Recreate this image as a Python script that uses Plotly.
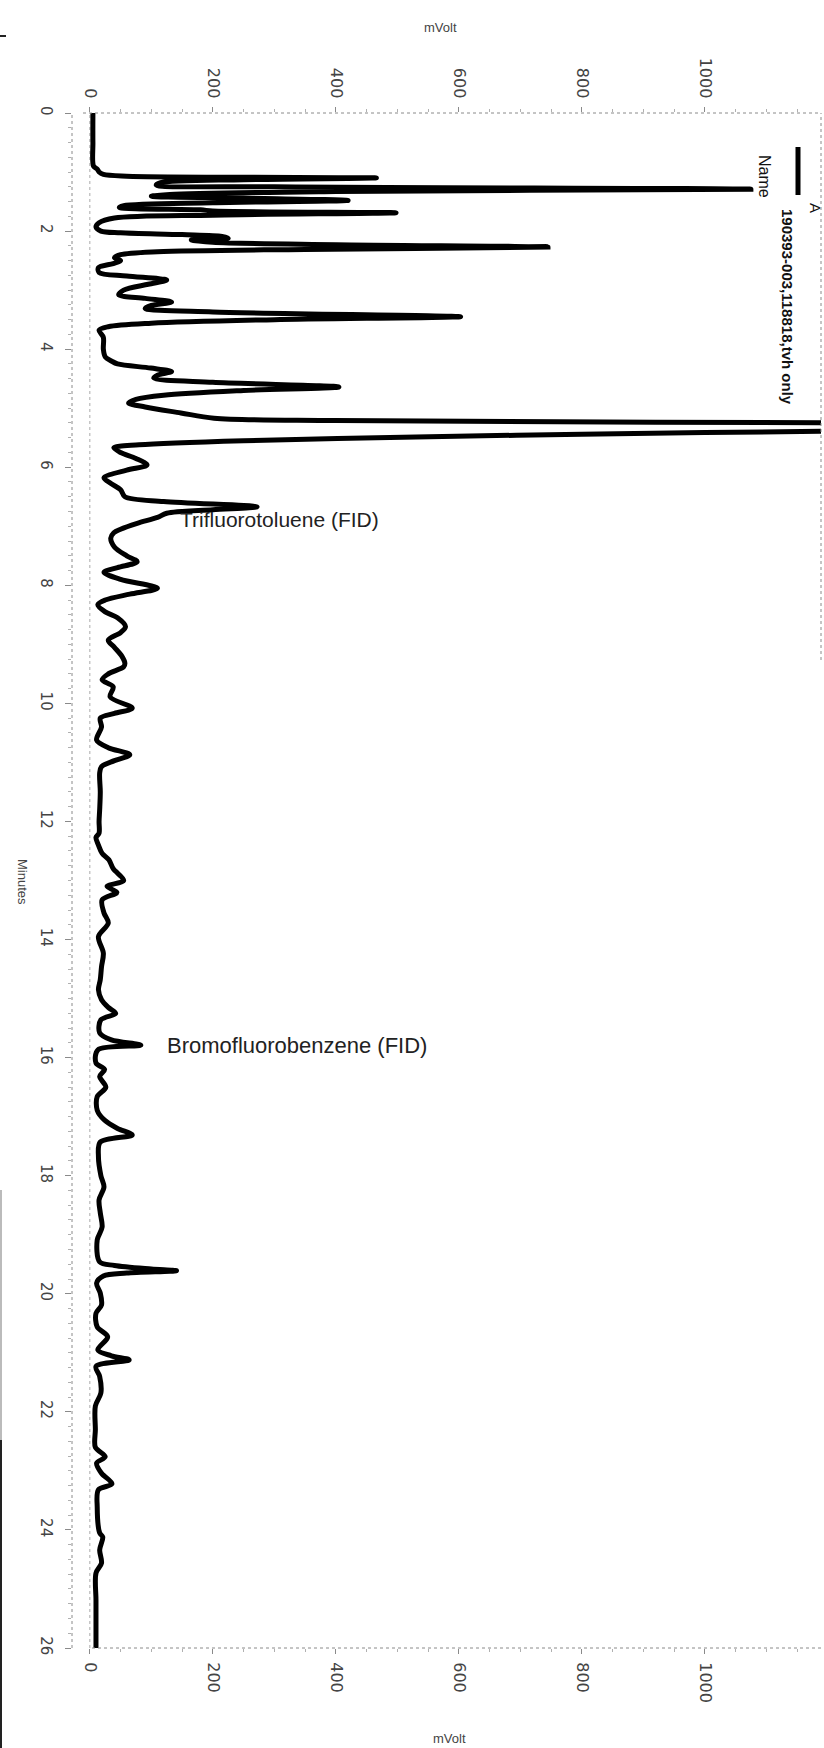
import plotly.graph_objects as go

# ---- data (time in minutes, signal in mVolt) ----
TIME = [0.00, 0.50, 0.90, 0.95, 1.00, 1.04, 1.07, 1.10, 1.13, 1.18, 1.22, 1.25, 1.29, 1.33, 1.38,
        1.41, 1.44, 1.48, 1.52, 1.57, 1.60, 1.64, 1.66, 1.69, 1.73, 1.78, 1.86, 1.93, 2.00, 2.03,
        2.06, 2.09, 2.12, 2.15, 2.19, 2.23, 2.27, 2.31, 2.35, 2.40, 2.45, 2.50, 2.55, 2.62, 2.70,
        2.76, 2.83, 2.90, 3.00, 3.08, 3.14, 3.20, 3.26, 3.31, 3.37, 3.45, 3.50, 3.56, 3.62, 3.68,
        3.80, 4.00, 4.13, 4.20, 4.25, 4.32, 4.38, 4.44, 4.49, 4.56, 4.64, 4.70, 4.78, 4.85, 4.91,
        4.98, 5.08, 5.17, 5.21, 5.25, 5.30, 5.36, 5.39, 5.44, 5.49, 5.55, 5.62, 5.67, 5.75, 5.85,
        5.96, 6.05, 6.18, 6.28, 6.38, 6.50, 6.58, 6.67, 6.72, 6.78, 6.85, 6.95, 7.05, 7.11, 7.20,
        7.35, 7.50, 7.60, 7.70, 7.78, 7.90, 8.05, 8.15, 8.25, 8.33, 8.45, 8.55, 8.70, 8.80, 8.93,
        9.05, 9.20, 9.32, 9.38, 9.50, 9.60, 9.72, 9.89, 10.08, 10.17, 10.25, 10.40, 10.62, 10.75,
        10.87, 10.97, 11.07, 11.18, 11.50, 11.80, 12.00, 12.20, 12.27, 12.40, 12.54, 12.65, 12.80,
        13.00, 13.10, 13.20, 13.33, 13.55, 13.72, 13.95, 14.23, 14.46, 14.68, 14.85, 15.02, 15.15,
        15.25, 15.36, 15.58, 15.70, 15.79, 15.87, 16.09, 16.20, 16.32, 16.50, 16.66, 16.89, 17.06,
        17.20, 17.31, 17.43, 17.68, 18.00, 18.19, 18.41, 18.63, 18.87, 19.09, 19.46, 19.52, 19.58,
        19.61, 19.65, 19.70, 19.82, 19.99, 20.19, 20.33, 20.56, 20.73, 20.95, 21.05, 21.12, 21.23,
        21.40, 21.68, 21.90, 22.30, 22.60, 22.76, 22.87, 23.04, 23.22, 23.32, 23.61, 24.05, 24.12,
        24.34, 24.56, 24.73, 25.19, 25.60, 26.00]
MVOLT = [5, 5, 6, 12, 15, 22, 60, 466, 250, 115, 108, 300, 1075, 400, 130,
         100, 250, 420, 200, 55, 48, 180, 200, 498, 200, 40, 15, 10, 18, 50,
         150, 215, 225, 165, 200, 400, 745, 350, 110, 50, 40, 50, 38, 14, 15,
         60, 125, 95, 55, 47, 90, 133, 100, 90, 200, 603, 300, 100, 30, 15,
         22, 22, 25, 35, 45, 99, 133, 110, 104, 200, 405, 250, 120, 75, 63,
         90, 148, 202, 400, 1300, 2200, 1500, 1190, 800, 530, 250, 80, 39, 50, 75,
         93, 60, 23, 35, 50, 57, 120, 272, 200, 125, 110, 77, 50, 39, 34,
         40, 60, 77, 45, 23, 50, 110, 65, 25, 13, 25, 45, 58, 50, 30,
         40, 52, 57, 55, 30, 20, 38, 33, 69, 40, 17, 19, 11, 30,
         65, 40, 19, 16, 17, 16, 15, 15, 10, 14, 20, 31, 38,
         55, 28, 44, 20, 23, 30, 14, 22, 19, 17, 14, 19, 30,
         42, 18, 16, 35, 83, 13, 10, 24, 16, 26, 12, 12, 24,
         45, 69, 17, 14, 18, 23, 15, 17, 20, 12, 16, 40, 100,
         141, 60, 22, 11, 17, 19, 10, 12, 29, 13, 35, 64, 10,
         16, 18, 9, 9, 9, 25, 11, 19, 36, 14, 12, 16, 21,
         16, 19, 10, 10, 10, 10]

MV_TICKS = [0, 200, 400, 600, 800, 1000]
MIN_TICKS = list(range(0, 27, 2))
SERIES_NAME = "190393-003,118818,tvh only"
PEAK_LABELS = ["Trifluorotoluene (FID)", "Bromofluorobenzene (FID)"]

W, H = 824, 1748
L, R, T, B = 72, 821, 113, 1648


def px(xp):
    return (xp - L) / (R - L)


def py(yp):
    return (B - yp) / (B - T)


FONT = "Liberation Sans, Arial, sans-serif"
TICKFONT = "DejaVu Sans, Verdana, sans-serif"
GRAY = "#8a8a8a"

fig = go.Figure()
fig.add_trace(go.Scatter(x=MVOLT, y=TIME, mode="lines", name=SERIES_NAME,
                         line=dict(color="black", width=5, shape="spline", smoothing=0.9),
                         showlegend=False, hoverinfo="skip"))
# invisible trace to carry the top axis
fig.add_trace(go.Scatter(x=[0], y=[0], xaxis="x2", mode="markers",
                         marker=dict(opacity=0), showlegend=False, hoverinfo="skip"))

xr = [-29, 1189]
axis_common = dict(range=xr, tickmode="array", tickvals=MV_TICKS, tickangle=90,
                   tickfont=dict(family=TICKFONT, size=16, color="#444"),
                   ticks="outside", ticklen=5, tickcolor=GRAY, showgrid=False,
                   zeroline=False, showline=False,
                   minor=dict(dtick=50, ticks="outside", ticklen=3, tickcolor="#b0b0b0"))
fig.update_layout(
    width=W, height=H,
    margin=dict(l=L, r=W - R, t=T, b=H - B, pad=0),
    paper_bgcolor="white", plot_bgcolor="white",
    xaxis=dict(**axis_common, side="bottom", ticklabelstandoff=5),
    xaxis2=dict(**axis_common, side="top", overlaying="x", ticklabelstandoff=3),
    yaxis=dict(range=[26, 0], tickmode="array", tickvals=MIN_TICKS, tickangle=90,
               tickfont=dict(family=TICKFONT, size=15, color="#444"),
               ticks="outside", ticklen=6, tickcolor=GRAY, showgrid=False,
               zeroline=False, showline=False, ticklabelstandoff=6,
               minor=dict(dtick=0.25, ticks="outside", ticklen=3, tickcolor="#b0b0b0")),
    showlegend=False,
)

shapes = []
# dotted frame lines
shapes.append(dict(type="line", xref="paper", yref="paper", x0=px(83), x1=1, y0=1, y1=1,
                   line=dict(color=GRAY, width=1, dash="dot")))
shapes.append(dict(type="line", xref="paper", yref="paper", x0=0, x1=0, y0=0, y1=1,
                   line=dict(color=GRAY, width=1, dash="dot")))
shapes.append(dict(type="line", xref="paper", yref="paper", x0=px(92), x1=1, y0=0, y1=0,
                   line=dict(color=GRAY, width=1, dash="dot")))
shapes.append(dict(type="line", xref="paper", yref="paper", x0=1, x1=1, y0=py(660), y1=1,
                   line=dict(color=GRAY, width=1, dash="dot")))
# zero mV reference line
shapes.append(dict(type="line", xref="x", yref="paper", x0=0, x1=0, y0=0, y1=1,
                   line=dict(color="#aaaaaa", width=1, dash="dot"), layer="below"))
# legend sample line
shapes.append(dict(type="line", xref="paper", yref="paper", x0=px(798), x1=px(798),
                   y0=py(147), y1=py(195), line=dict(color="black", width=5)))
# scan edge marks
shapes.append(dict(type="line", xref="paper", yref="paper", x0=px(1), x1=px(1),
                   y0=py(1190), y1=py(1440), line=dict(color="#bbbbbb", width=2)))
shapes.append(dict(type="line", xref="paper", yref="paper", x0=px(1), x1=px(1),
                   y0=py(1440), y1=py(1748), line=dict(color="#222222", width=2)))
shapes.append(dict(type="line", xref="paper", yref="paper", x0=px(0), x1=px(6),
                   y0=py(36), y1=py(36), line=dict(color="#222222", width=2)))
fig.update_layout(shapes=shapes)


def note(text, x, y, size, angle=0, xa="center", ya="middle", color="#222", family=FONT):
    return dict(text=text, xref="paper", yref="paper", x=px(x), y=py(y), textangle=angle,
                xanchor=xa, yanchor=ya, showarrow=False,
                font=dict(family=family, size=size, color=color))


ann = [
    note("mVolt", 440, 28, 13, color="#444"),
    note("mVolt", 450, 1738, 13, color="#444"),
    note("Minutes", 22, 882, 13, angle=90, color="#444"),
    note("A", 816, 208, 15, angle=90, color="#111"),
    note("<b>" + SERIES_NAME + "</b>", 788, 307, 15, angle=90, color="#111"),
    note("Name", 765, 176, 16, angle=90, color="#111"),
    note(PEAK_LABELS[0], 178, 519, 21, xa="left"),
    note(PEAK_LABELS[1], 165, 1045, 22, xa="left"),
]
fig.update_layout(annotations=ann)

fig.write_html("out.html")
